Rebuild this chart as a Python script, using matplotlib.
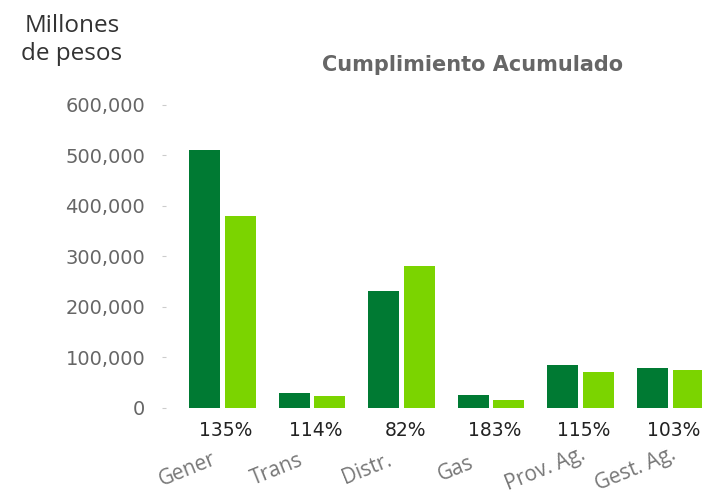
import numpy as np
import matplotlib
matplotlib.use('Agg')
import matplotlib.pyplot as plt
from matplotlib.ticker import FuncFormatter

# data (millones de pesos)
categorias = ['Gener', 'Trans', 'Distr.', 'Gas', 'Prov. Ag.', 'Gest. Ag.']
real = [510000, 28000, 231000, 25000, 84000, 78000]
meta = [380000, 23000, 281000, 15000, 71000, 74000]
cumplimiento = ['135%', '114%', '82%', '183%', '115%', '103%']
yticks = [0, 100000, 200000, 300000, 400000, 500000, 600000]

color_real = '#007a33'
color_meta = '#7bd400'

fig = plt.figure(figsize=(7.02, 5.04), dpi=100)
ax = fig.add_axes([166 / 702, 1 - 407.5 / 504, 1 - 166 / 702, (407.5 - 105) / 504])

x = np.arange(len(categorias))
w = 0.345
ax.bar(x - 0.2, real, width=w, color=color_real, edgecolor='none')
ax.bar(x + 0.2, meta, width=w, color=color_meta, edgecolor='none')

ax.set_xlim(-0.631, 5.357)
ax.set_ylim(0, 600000)
ax.set_yticks(yticks)
ax.yaxis.set_major_formatter(FuncFormatter(lambda v, p: f'{int(v):,}'))
ax.set_xticks([])
for s in ax.spines.values():
    s.set_visible(False)
ax.tick_params(axis='y', length=3, width=0.8, color='#cccccc', pad=12,
               labelsize=14, labelcolor='#666666')

# percentage under each group
for i, p in enumerate(cumplimiento):
    ax.text(i + 0.04, -45000, p, ha='center', va='center', fontsize=13.5,
            color='#222222', clip_on=False)

# rotated category names
for i, c in enumerate(categorias):
    ax.text(i - 0.39, -123000, c, ha='center', va='center', rotation=22,
            fontsize=15, color='#777777', family='Open Sans', clip_on=False)

fig.text(322 / 702, 1 - 65 / 504, 'Cumplimiento Acumulado', ha='left', va='center',
         fontsize=15, fontweight='bold', color='#666666')
fig.text(72 / 702, 1 - 40 / 504, 'Millones\nde pesos', ha='center', va='center',
         fontsize=17.5, color='#333333', family='Open Sans', linespacing=1.25)

fig.savefig('out.png', dpi=100)
